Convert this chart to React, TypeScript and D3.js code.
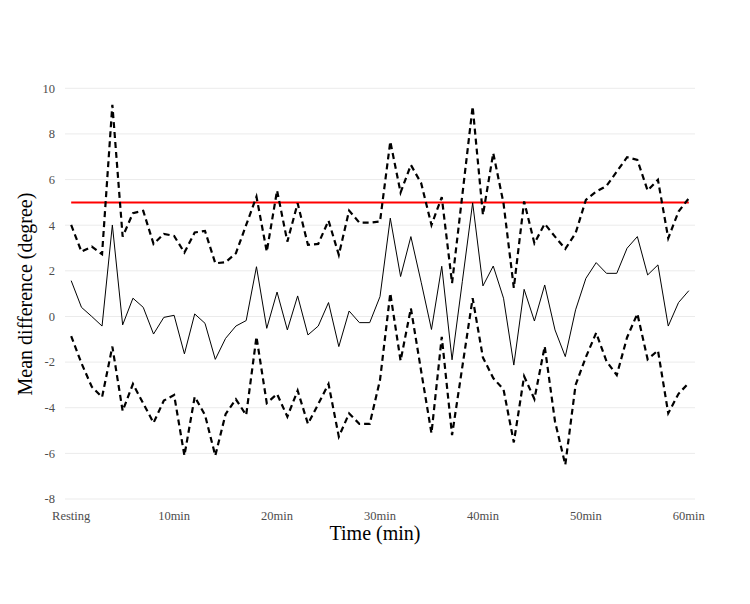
import React from "react";
import * as d3 from "d3";

// Time points: resting baseline followed by minutes 1..60
const timeIndex: number[] = d3.range(61);
const tickIndex: number[] = [0, 10, 20, 30, 40, 50, 60];
const tickLabels: string[] = ["Resting", "10min", "20min", "30min", "40min", "50min", "60min"];
const yTicks: number[] = [-8, -6, -4, -2, 0, 2, 4, 6, 8, 10];
const threshold = 5;

// Upper limit of agreement
const upperLimit: number[] = [
  4.01, 2.84, 3.06, 2.73, 9.28, 3.5, 4.53, 4.63, 3.18, 3.62,
  3.53, 2.8, 3.68, 3.75, 2.33, 2.38, 2.77, 4.01, 5.25, 2.84,
  5.52, 3.28, 4.96, 3.14, 3.18, 4.2, 2.7, 4.64, 4.11, 4.11,
  4.16, 7.67, 5.43, 6.64, 5.84, 4.01, 5.23, 1.46, 5.33, 9.2,
  4.45, 7.16, 4.96, 1.25, 5.04, 3.21, 4.06, 3.5, 2.96, 3.65,
  5.11, 5.47, 5.72, 6.35, 6.98, 6.86, 5.52, 5.99, 3.43, 4.6,
  5.18,
];

// Mean difference
const meanDiff: number[] = [
  1.57, 0.4, 0.0, -0.42, 4.01, -0.37, 0.8, 0.4, -0.77, -0.04,
  0.05, -1.64, 0.11, -0.3, -1.88, -0.96, -0.42, -0.18, 2.18, -0.52,
  1.07, -0.59, 0.9, -0.81, -0.42, 0.61, -1.32, 0.24, -0.27, -0.27,
  0.87, 4.31, 1.75, 3.5, 1.5, -0.57, 2.2, -1.9, 1.54, 4.98,
  1.34, 2.21, 0.8, -2.13, 1.19, -0.2, 1.38, -0.59, -1.76, 0.29,
  1.67, 2.36, 1.89, 1.89, 2.99, 3.5, 1.82, 2.26, -0.42, 0.61,
  1.13,
];

// Lower limit of agreement
const lowerLimit: number[] = [
  -0.86, -2.05, -3.08, -3.54, -1.32, -4.14, -2.96, -3.81, -4.66, -3.69,
  -3.44, -6.1, -3.52, -4.32, -6.1, -4.28, -3.63, -4.32, -0.89, -3.8,
  -3.4, -4.39, -3.25, -4.71, -3.84, -2.96, -5.27, -4.25, -4.71, -4.71,
  -2.79, 1.02, -1.94, 0.36, -2.4, -5.12, -0.89, -5.2, -2.2, 0.8,
  -1.8, -2.7, -3.2, -5.52, -2.62, -3.62, -1.31, -4.6, -6.5, -3.0,
  -1.78, -0.72, -1.96, -2.57, -0.92, 0.12, -1.88, -1.49, -4.24, -3.39,
  -2.91,
];

const WIDTH = 750;
const HEIGHT = 604;
const panel = { left: 65, right: 695, top: 66, bottom: 505 };

export default function App() {
  const x = d3
    .scalePoint<number>()
    .domain(timeIndex)
    .range([panel.left, panel.right])
    .padding(0.6);
  const y = d3.scaleLinear().domain([-8, 10]).range([499, 88.3]);

  const line = d3
    .line<number>()
    .x((_, i) => x(timeIndex[i]) as number)
    .y((d) => y(d));

  const font = "'Liberation Serif', 'Times New Roman', serif";

  return (
    <svg
      width={WIDTH}
      height={HEIGHT}
      style={{ position: "absolute", left: 0, top: 0, background: "#fff" }}
    >
      {/* horizontal grid */}
      {yTicks.map((t) => (
        <line
          key={`g${t}`}
          x1={panel.left}
          x2={panel.right}
          y1={y(t)}
          y2={y(t)}
          stroke="#ebebeb"
          strokeWidth={1}
        />
      ))}
      {/* y tick labels */}
      {yTicks.map((t) => (
        <text
          key={`yl${t}`}
          x={55}
          y={y(t)}
          dy="0.35em"
          textAnchor="end"
          fontFamily={font}
          fontSize={12.5}
          fill="#4d4d4d"
        >
          {t}
        </text>
      ))}
      {/* x tick labels */}
      {tickIndex.map((t, i) => (
        <text
          key={`xl${t}`}
          x={x(t) as number}
          y={520}
          textAnchor="middle"
          fontFamily={font}
          fontSize={12.5}
          fill="#4d4d4d"
        >
          {tickLabels[i]}
        </text>
      ))}

      {/* threshold */}
      <path
        d={line(timeIndex.map(() => threshold)) || ""}
        fill="none"
        stroke="#ff0000"
        strokeWidth={2}
      />
      {/* limits of agreement */}
      <path
        d={line(upperLimit) || ""}
        fill="none"
        stroke="#000"
        strokeWidth={2.2}
        strokeDasharray="6 4"
      />
      <path
        d={line(lowerLimit) || ""}
        fill="none"
        stroke="#000"
        strokeWidth={2.2}
        strokeDasharray="6 4"
      />
      {/* mean difference */}
      <path d={line(meanDiff) || ""} fill="none" stroke="#000" strokeWidth={1} />

      {/* axis titles */}
      <text
        x={375}
        y={540}
        textAnchor="middle"
        fontFamily={font}
        fontSize={20}
        fill="#000"
      >
        Time (min)
      </text>
      <text
        transform={`translate(32, ${294}) rotate(-90)`}
        textAnchor="middle"
        fontFamily={font}
        fontSize={20}
        fill="#000"
      >
        Mean difference (degree)
      </text>
    </svg>
  );
}
